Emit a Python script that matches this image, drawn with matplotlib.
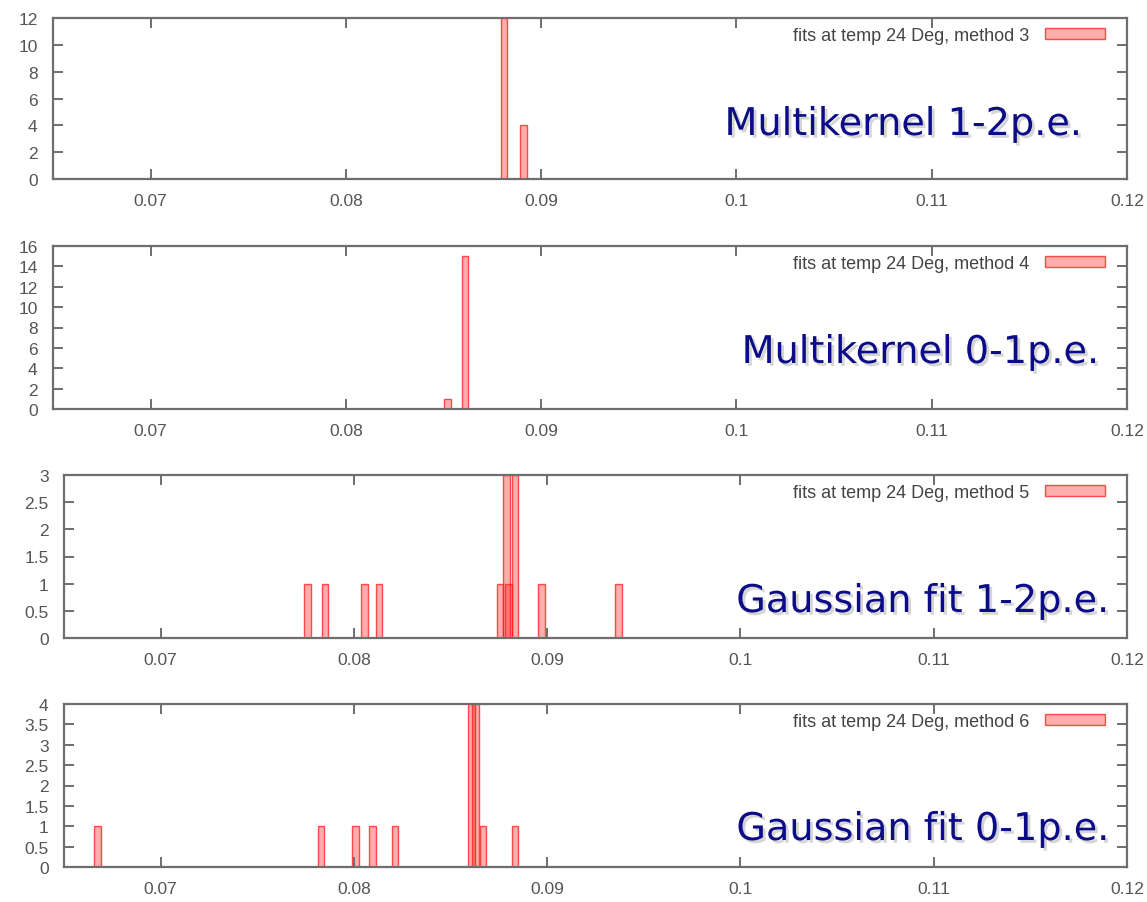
import numpy as np
import matplotlib
matplotlib.use("Agg")
import matplotlib.pyplot as plt
import matplotlib.patheffects as pe
from matplotlib.ticker import FuncFormatter, MultipleLocator

# ------------------------------------------------------------
# Histogram data: fitted value -> count, one set per method
# ------------------------------------------------------------
m3_x = [0.0881, 0.0891]
m3_n = [12, 4]

m4_x = [0.0852, 0.0861]
m4_n = [1, 15]

m5_x = [0.0776, 0.0785, 0.08055, 0.0813, 0.08756, 0.0879, 0.0880, 0.08834, 0.0897, 0.0937]
m5_n = [1, 1, 1, 1, 1, 3, 1, 3, 1, 1]

m6_x = [0.06674, 0.07829, 0.08009, 0.08096, 0.08213, 0.08609, 0.0863, 0.08667, 0.08833]
m6_n = [1, 1, 1, 1, 1, 4, 4, 1, 1]

methods = [3, 4, 5, 6]
titles = ["Multikernel 1-2p.e.", "Multikernel 0-1p.e.",
          "Gaussian fit 1-2p.e.", "Gaussian fit 0-1p.e."]
y_max = [12, 16, 3, 4]
y_step = [2, 2, 0.5, 0.5]
series = [(m3_x, m3_n), (m4_x, m4_n), (m5_x, m5_n), (m6_x, m6_n)]

# panel rectangles in pixels: left, top, right, bottom
BOXES = [(53, 19, 1127, 180),
         (53, 247, 1127, 410),
         (64, 476, 1127, 639),
         (64, 705, 1127, 868)]
# big caption: right end and baseline, pixels
CAPTION_POS = [(1083, 136), (1100, 364), (1110, 613), (1110, 841)]
W, H = 1147, 903

BAR_W = 0.00034
FACE = (1.0, 0.0, 0.0, 0.32)
EDGE = (1.0, 0.1, 0.1, 0.75)
FRAME = "#6e6e6e"
TXT = "#555555"

plt.rcParams["font.family"] = ["Liberation Sans", "DejaVu Sans"]

fig = plt.figure(figsize=(W / 100, H / 100), dpi=100)
fig.patch.set_facecolor("white")

fmt = FuncFormatter(lambda v, _: f"{v:g}")

for (l, t, r, b), (xs, ns), meth, title, ym, ys, (cx, cy) in zip(
        BOXES, series, methods, titles, y_max, y_step, CAPTION_POS):
    ax = fig.add_axes([l / W, 1 - b / H, (r - l) / W, (b - t) / H])
    ax.bar(xs, ns, width=BAR_W, facecolor=FACE, edgecolor=EDGE,
           linewidth=1.0, label=f"fits at temp 24 Deg, method {meth}")

    ax.set_xlim(0.065, 0.12)
    ax.set_ylim(0, ym)
    ax.xaxis.set_major_locator(MultipleLocator(0.01))
    ax.yaxis.set_major_locator(MultipleLocator(ys))
    ax.xaxis.set_major_formatter(fmt)
    ax.yaxis.set_major_formatter(fmt)

    for s in ax.spines.values():
        s.set_color(FRAME)
        s.set_linewidth(1.6)
    ax.tick_params(direction="in", length=7, width=1.4, color=FRAME,
                   labelcolor=TXT, labelsize=12.5,
                   top=True, right=True)
    ax.tick_params(axis="x", pad=10)
    ax.tick_params(axis="y", pad=11)

    # gnuplot-style key: text first, sample box after
    ax_w = r - l
    ax_h = b - t
    ax.legend(loc="upper right", frameon=False, markerfirst=False,
              fontsize=13, handlelength=3.3, handleheight=0.5,
              handletextpad=0.9, borderpad=0, borderaxespad=0,
              labelcolor="#444444",
              bbox_to_anchor=(1 - 22 / ax_w, 1 - 9 / ax_h))

    ax.text((cx - l) / ax_w, (b - cy) / ax_h, title, transform=ax.transAxes,
            ha="right", va="baseline", fontsize=27.5, color="#0c0c88",
            family="DejaVu Sans",
            path_effects=[pe.withSimplePatchShadow(offset=(2, -2),
                                                   shadow_rgbFace="#888888",
                                                   alpha=0.35)])

fig.savefig("out.png", dpi=100, facecolor="white")
